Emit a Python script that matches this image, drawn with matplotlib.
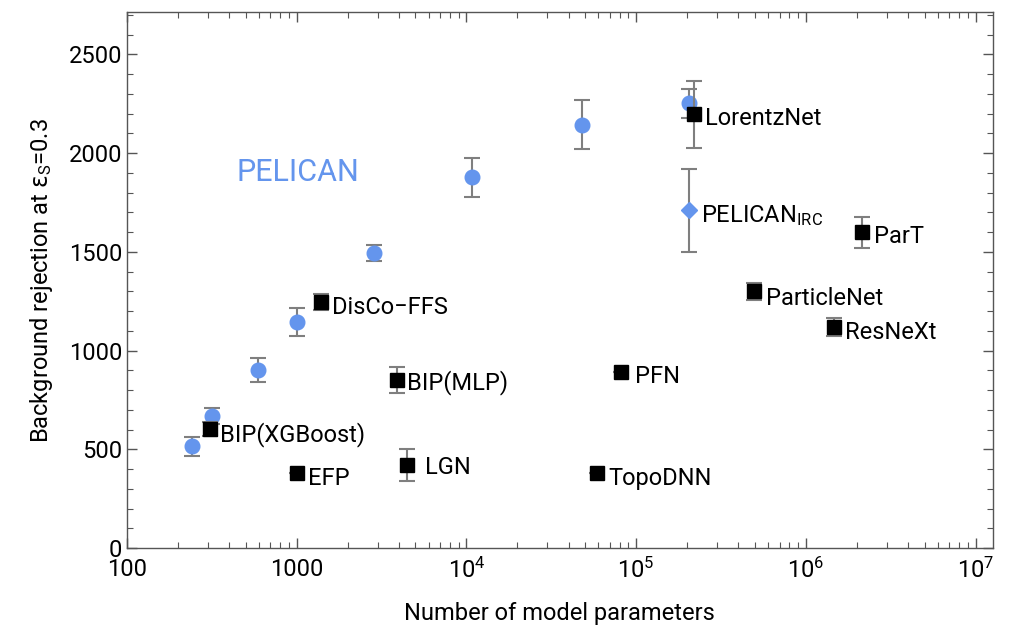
import numpy as np
import matplotlib
matplotlib.use("Agg")
import matplotlib.pyplot as plt

plt.rcParams['font.family'] = ['Roboto', 'DejaVu Sans']
plt.rcParams['mathtext.fontset'] = 'custom'
plt.rcParams['mathtext.rm'] = 'Roboto'
plt.rcParams['mathtext.it'] = 'Roboto:italic'
plt.rcParams['mathtext.bf'] = 'Roboto:bold'
plt.rcParams['mathtext.sf'] = 'DejaVu Sans'
plt.rcParams['mathtext.fallback'] = 'stixsans'

# PELICAN scan over model sizes
pelican_params = [242, 317, 592, 1000, 2860, 10800, 48200, 206000]
pelican_rej = [516, 668, 901, 1144, 1493, 1877, 2145, 2252]
pelican_err = [48, 40, 60, 72, 40, 100, 125, 75]

# IRC-safe PELICAN variant
irc_params = [206000]
irc_rej = [1710]
irc_err = [210]

# other taggers
other_names = ['LorentzNet', 'ParT', 'ParticleNet', 'ResNeXt', 'DisCo\u2212FFS',
               'BIP(MLP)', 'BIP(XGBoost)', 'EFP', 'LGN', 'PFN', 'TopoDNN']
other_params = [220000, 2130000, 498000, 1470000, 1393, 3900, 308, 1000, 4480, 81800, 59000]
other_rej = [2196, 1599, 1300, 1118, 1245, 850, 602, 380, 420, 891, 380]
other_err = [170, 78, 45, 45, 40, 65, 35, 0, 80, 0, 0]

x_ticks = [100, 1000, 1e4, 1e5, 1e6, 1e7]
x_tick_labels = ['100', '1000', '$10^4$', '$10^5$', '$10^6$', '$10^7$']

blue = '#6495ed'
grey = '#7f7f7f'

fig = plt.figure(figsize=(10.15, 6.3), dpi=100)
ax = fig.add_axes([0.125, 0.130, 0.853, 0.851])

ax.errorbar(pelican_params, pelican_rej, yerr=pelican_err, fmt='o', color=blue,
            markersize=10.5, ecolor=grey, elinewidth=1.5, capsize=6, capthick=1.5, zorder=3)
ax.errorbar(irc_params, irc_rej, yerr=irc_err, fmt='D', color=blue,
            markersize=8.5, ecolor=grey, elinewidth=1.5, capsize=6, capthick=1.5, zorder=3)
ax.errorbar(other_params, other_rej, yerr=other_err, fmt='s', color='black',
            markersize=9.5, ecolor=grey, elinewidth=1.5, capsize=6, capthick=1.5, zorder=4)

# label offsets in points
offsets = {
    'LorentzNet': (8, -3), 'ParT': (9, -3), 'ParticleNet': (8, -5), 'ResNeXt': (8, -4),
    'DisCo\u2212FFS': (8, -4), 'BIP(MLP)': (7, -2), 'BIP(XGBoost)': (7, -4), 'EFP': (8, -4),
    'LGN': (13, -2), 'PFN': (10, -3), 'TopoDNN': (8, -4),
}
for name, xv, yv in zip(other_names, other_params, other_rej):
    ax.annotate(name, (xv, yv), xytext=offsets[name], textcoords='offset points',
                ha='left', va='center', fontsize=17)
ax.annotate('PELICAN$_\\mathrm{IRC}$', (irc_params[0], irc_rej[0]), xytext=(8, -4),
            textcoords='offset points', ha='left', va='center', fontsize=17)
ax.text(1020, 1900, 'PELICAN', color=blue, fontsize=22, ha='center', va='center')

ax.set_xscale('log')
ax.set_xlim(100, 1.26e7)
ax.set_ylim(0, 2715)
ax.set_xticks(x_ticks)
ax.set_xticklabels(x_tick_labels)
ax.set_yticks(np.arange(0, 2501, 500))
ax.set_yticks(np.arange(0, 2701, 100), minor=True)

ax.tick_params(which='both', direction='in', top=True, right=True, colors='#555555',
               labelcolor='black', labelsize=17)
ax.tick_params(which='major', length=7, width=1)
ax.tick_params(which='minor', length=4, width=0.8)
ax.tick_params(axis='x', pad=7)
for s in ax.spines.values():
    s.set_color('#555555')
    s.set_linewidth(1)

ax.set_xlabel('Number of model parameters', fontsize=17, labelpad=14)
ax.set_ylabel('Background rejection at $\\mathsf{\\epsilon}_\\mathrm{S}$=0.3',
              fontsize=17, labelpad=10)

fig.savefig('out.png', dpi=100)
